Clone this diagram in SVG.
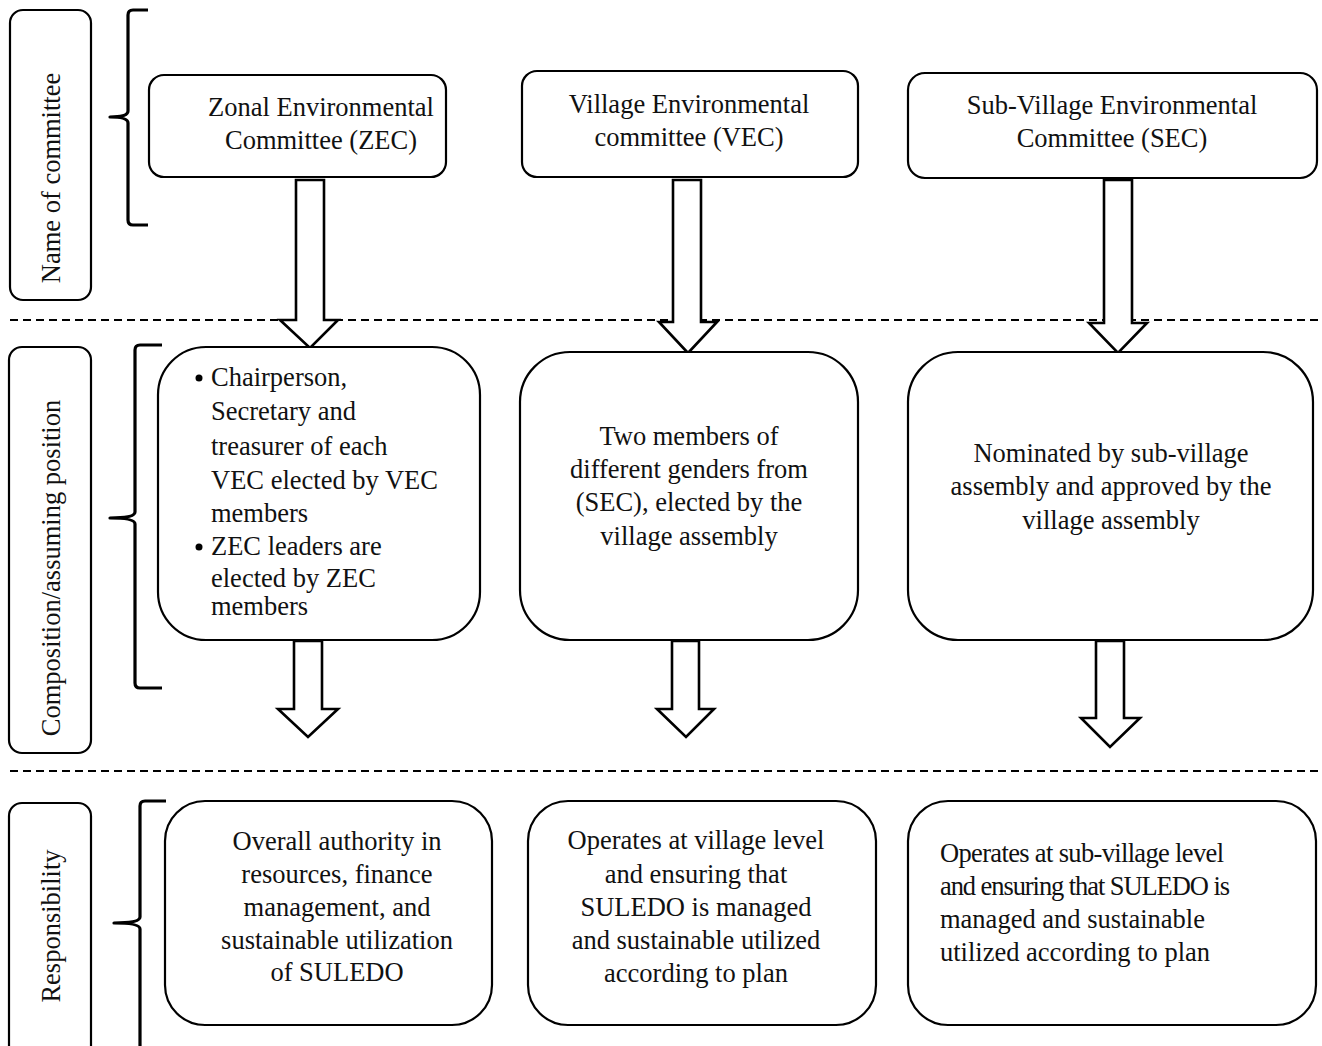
<svg xmlns="http://www.w3.org/2000/svg" width="1322" height="1046" viewBox="0 0 1322 1046">
<style>
.box{fill:#fff;stroke:#000;stroke-width:2.2}
.t{font-family:"Liberation Serif","Times New Roman",serif;font-size:26.5px;fill:#111;text-anchor:middle;dominant-baseline:central}
.tl{text-anchor:start}
.br{fill:none;stroke:#000;stroke-width:3.2;stroke-linejoin:round}
.dash{stroke:#000;stroke-width:2;stroke-dasharray:8 5}
.arr{fill:#fff;stroke:#000;stroke-width:2.6;stroke-linejoin:miter}
</style>
<rect width="1322" height="1046" fill="#fff"/>
<g id="separators">
<line class="dash" x1="10" y1="320" x2="1320" y2="320"/>
<line class="dash" x1="10" y1="771" x2="1320" y2="771"/>
</g>
<g id="label-name">
<rect class="box" x="10" y="10" width="81" height="290" rx="13"/>
<text class="t" transform="translate(51,178) rotate(-90)">Name of committee</text>
</g>
<g id="label-composition">
<rect class="box" x="9" y="347" width="82" height="406" rx="13"/>
<text class="t" transform="translate(51,568) rotate(-90)">Composition/assuming position</text>
</g>
<g id="label-responsibility">
<rect class="box" x="9" y="803" width="82" height="260" rx="13"/>
<text class="t" transform="translate(51,926) rotate(-90)">Responsibility</text>
</g>
<g id="braces">
<path class="br" d="M148,10 L133,10 Q128,10 128,15 L128,111 Q128,117 110,117 Q128,117 128,123 L128,220 Q128,225 133,225 L148,225"/>
<path class="br" d="M162,345 L140,345 Q135,345 135,350 L135,512 Q135,518 110,518 Q135,518 135,524 L135,683 Q135,688 140,688 L162,688"/>
<path class="br" d="M166,801 L145,801 Q140,801 140,806 L140,917 Q140,923 114,923 Q140,923 140,929 L140,1060"/>
</g>
<g id="connectors">
<path class="arr" d="M296,180 L324,180 L324,320 L338,320 L310,348 L280,320 L296,320 Z"/>
<path class="arr" d="M673,180 L701,180 L701,322 L717,322 L688,353 L659,322 L673,322 Z"/>
<path class="arr" d="M1104,180 L1132,180 L1132,323 L1147,323 L1118,353 L1089,323 L1104,323 Z"/>
<path class="arr" d="M294,641 L322,641 L322,709 L338,709 L308,737 L278,709 L294,709 Z"/>
<path class="arr" d="M672,641 L699,641 L699,709 L714,709 L686,737 L657,709 L672,709 Z"/>
<path class="arr" d="M1096,641 L1124,641 L1124,718 L1140,718 L1110,747 L1081,718 L1096,718 Z"/>
</g>
<g id="zec-name">
<rect class="box" x="149" y="75" width="297" height="102" rx="15"/>
<text class="t" x="321" y="107">Zonal Environmental</text>
<text class="t" x="321" y="140">Committee (ZEC)</text>
</g>
<g id="vec-name">
<rect class="box" x="522" y="71" width="336" height="106" rx="15"/>
<text class="t" x="689" y="104">Village Environmental</text>
<text class="t" x="689" y="137">committee (VEC)</text>
</g>
<g id="sec-name">
<rect class="box" x="908" y="73" width="409" height="105" rx="17"/>
<text class="t" x="1112" y="105">Sub-Village Environmental</text>
<text class="t" x="1112" y="138">Committee (SEC)</text>
</g>
<g id="zec-composition">
<rect class="box" x="158" y="347" width="322" height="293" rx="48"/>
<circle cx="199" cy="378" r="3.5"/>
<circle cx="199" cy="547" r="3.5"/>
<text class="t tl" x="211" y="377">Chairperson,</text>
<text class="t tl" x="211" y="411">Secretary and</text>
<text class="t tl" x="211" y="446">treasurer of each</text>
<text class="t tl" x="211" y="480">VEC elected by VEC</text>
<text class="t tl" x="211" y="513">members</text>
<text class="t tl" x="211" y="546">ZEC leaders are</text>
<text class="t tl" x="211" y="578">elected by ZEC</text>
<text class="t tl" x="211" y="606">members</text>
</g>
<g id="vec-composition">
<rect class="box" x="520" y="352" width="338" height="288" rx="50"/>
<text class="t" x="689" y="436">Two members of</text>
<text class="t" x="689" y="469">different genders from</text>
<text class="t" x="689" y="502">(SEC), elected by the</text>
<text class="t" x="689" y="536">village assembly</text>
</g>
<g id="sec-composition">
<rect class="box" x="908" y="352" width="405" height="288" rx="50"/>
<text class="t" x="1111" y="453">Nominated by sub-village</text>
<text class="t" x="1111" y="486">assembly and approved by the</text>
<text class="t" x="1111" y="520">village assembly</text>
</g>
<g id="zec-responsibility">
<rect class="box" x="165" y="801" width="327" height="224" rx="40"/>
<text class="t" x="337" y="841">Overall authority in</text>
<text class="t" x="337" y="874">resources, finance</text>
<text class="t" x="337" y="907">management, and</text>
<text class="t" x="337" y="940">sustainable utilization</text>
<text class="t" x="337" y="972">of SULEDO</text>
</g>
<g id="vec-responsibility">
<rect class="box" x="528" y="801" width="348" height="224" rx="40"/>
<text class="t" x="696" y="840">Operates at village level</text>
<text class="t" x="696" y="874">and ensuring that</text>
<text class="t" x="696" y="907">SULEDO is managed</text>
<text class="t" x="696" y="940">and sustainable utilized</text>
<text class="t" x="696" y="973">according to plan</text>
</g>
<g id="sec-responsibility">
<rect class="box" x="908" y="801" width="408" height="224" rx="40"/>
<text class="t tl" x="940" y="853" textLength="284" lengthAdjust="spacing">Operates at sub-village level</text>
<text class="t tl" x="940" y="886" textLength="290" lengthAdjust="spacing">and ensuring that SULEDO is</text>
<text class="t tl" x="940" y="919">managed and sustainable</text>
<text class="t tl" x="940" y="952">utilized according to plan</text>
</g>
</svg>
